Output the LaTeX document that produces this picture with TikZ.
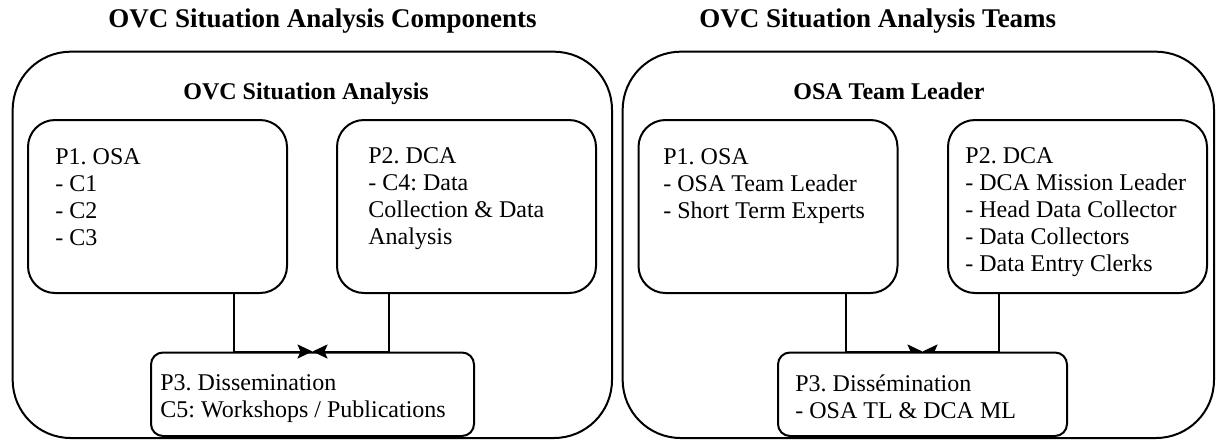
\documentclass[tikz,border=0pt]{standalone}
\usepackage{fontspec}
\setmainfont{Liberation Serif}
\usetikzlibrary{arrows.meta,backgrounds}
\frenchspacing
\tikzset{
  outerbox/.style={draw, line width=1pt, rounded corners=29pt, inner sep=0pt, minimum height=193.15pt},
  pbox/.style={draw, line width=1pt, fill=white, rounded corners=13.5pt, inner sep=0pt, minimum width=129.5pt, minimum height=86.5pt},
  dbox/.style={draw, line width=1pt, fill=white, rounded corners=6pt, inner sep=0pt, minimum height=41.75pt},
  ptext/.style={anchor=north west, inner sep=0pt, align=left, font=\fontsize{12}{13.5}\selectfont\frenchspacing},
  heading/.style={anchor=base west, inner sep=0pt, font=\fontsize{12}{14}\selectfont\bfseries},
  feed/.style={line width=1pt, -{Stealth[length=7.5pt,width=7pt,inset=1.5pt]}}
}
\begin{document}
\begin{tikzpicture}[x=0.5pt,y=-0.5pt]
  \useasboundingbox (0,0) rectangle (1217,441);
  \node[heading, font=\fontsize{13.5}{15}\selectfont\bfseries] (ltitle) at (108,27) {OVC Situation Analysis Components};
  \node[heading, font=\fontsize{13.5}{15}\selectfont\bfseries] (rtitle) at (699,27) {OVC Situation Analysis Teams};
  \node[outerbox, minimum width=299.65pt] (lframe) at (312.35,244.85) {};
  \node[outerbox, minimum width=295.65pt] (rframe) at (918.35,244.85) {};
  \node[heading] (lhead) at (183,99) {OVC Situation Analysis};
  \node[heading] (rhead) at (793,99) {OSA Team Leader};

  \node[pbox] (lp1) at (157.5,206.5) {};
  \node[pbox] (lp2) at (466.5,206.5) {};
  \node[dbox, minimum width=161.5pt] (lp3) at (312.5,394.25) {};
  \node[pbox] (rp1) at (768,206.5) {};
  \node[pbox] (rp2) at (1077.5,206.5) {};
  \node[dbox, minimum width=144.5pt] (rp3) at (922.5,394.25) {};

  \node[ptext] (lp1t) at (55,148) {P1. OSA\\- C1\\- C2\\- C3};
  \node[ptext] (lp2t) at (368,147) {P2. DCA\\- C4: Data\\Collection \& Data\\Analysis};
  \node[ptext] (lp3t) at (160,374) {P3. Dissemination\\C5: Workshops / Publications};
  \node[ptext] (rp1t) at (663,148) {P1. OSA\\- OSA Team Leader\\- Short Term Experts};
  \node[ptext] (rp2t) at (965,147) {P2. DCA\\- DCA Mission Leader\\- Head Data Collector\\- Data Collectors\\- Data Entry Clerks};
  \node[ptext] (rp3t) at (795,374) {P3. Dissémination\\- OSA TL \& DCA ML};

  \draw[feed] ([xshift=38.25pt]lp1.south) |- (lp3.north);
  \draw[feed] ([xshift=-38.75pt]lp2.south) |- (lp3.north);
  \begin{pgfonlayer}{background}
    \draw[feed] ([xshift=39pt]rp1.south) |- (rp3.north);
    \draw[feed] ([xshift=-39.25pt]rp2.south) |- (rp3.north);
  \end{pgfonlayer}
\end{tikzpicture}
\end{document}
